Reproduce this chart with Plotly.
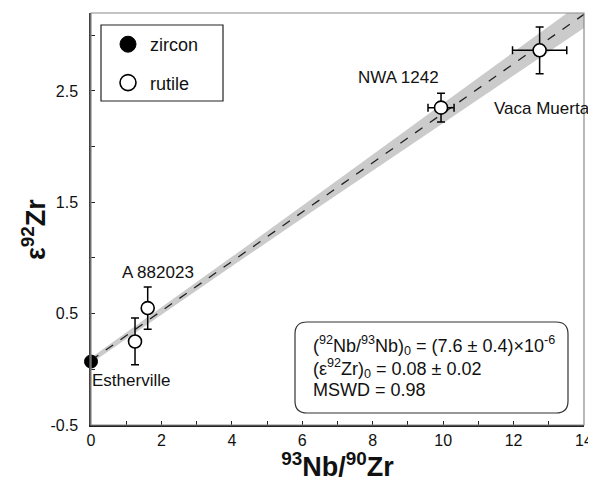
import plotly.graph_objects as go

# ---------------- data ----------------
zircon_x = [0.0]
zircon_y = [0.07]

rutile_names = ["Estherville", "A 882023", "NWA 1242", "Vaca Muerta"]
rutile_x = [1.25, 1.61, 9.94, 12.74]
rutile_y = [0.25, 0.55, 2.35, 2.865]
rutile_xerr = [0.0, 0.0, 0.37, 0.77]
rutile_yerr = [0.21, 0.19, 0.13, 0.21]

fit_intercept = 0.08
fit_slope = 0.222
fit_x = [0.0, 14.0]

band_x = [0, 2, 4, 6, 8, 10, 12, 14]
band_lower = [0.055, 0.494, 0.926, 1.356, 1.784, 2.212, 2.639, 3.066]
band_upper = [0.105, 0.554, 1.010, 1.468, 1.928, 2.388, 2.849, 3.310]

x_tickvals = list(range(0, 15))
x_ticktext = [str(v) if v % 2 == 0 else "" for v in x_tickvals]
y_tickvals = [-0.5, 0.0, 0.5, 1.0, 1.5, 2.0, 2.5, 3.0]
y_ticktext = ["-0.5", "", "0.5", "", "1.5", "", "2.5", ""]

# sample labels: (name, x, y)
label_names = ["A 882023", "Estherville", "NWA 1242", "Vaca Muerta"]
label_x = [1.9, 1.14, 8.72, 12.8]
label_y = [0.87, -0.10, 2.62, 2.34]

stats_lines = [
    "(<sup>92</sup>Nb/<sup>93</sup>Nb)<sub>0</sub> = (7.6 ± 0.4)×10<sup>-6</sup>",
    "(ε<sup>92</sup>Zr)<sub>0</sub> = 0.08 ± 0.02",
    "MSWD = 0.98",
]

FONT = "Liberation Sans, Arial, sans-serif"

fig = go.Figure()

# error envelope
fig.add_trace(go.Scatter(x=band_x, y=band_lower, mode="lines",
                         line=dict(width=0, color="rgba(0,0,0,0)"),
                         showlegend=False, hoverinfo="skip"))
fig.add_trace(go.Scatter(x=band_x, y=band_upper, mode="lines",
                         line=dict(width=0, color="rgba(0,0,0,0)"),
                         fill="tonexty", fillcolor="#cbcbcb",
                         showlegend=False, hoverinfo="skip"))

# fit line
fit_y = [fit_intercept + fit_slope * v for v in fit_x]
fig.add_trace(go.Scatter(x=fit_x, y=fit_y, mode="lines",
                         line=dict(color="#222222", width=1.3, dash="dash"),
                         showlegend=False, hoverinfo="skip"))

# rutile points
fig.add_trace(go.Scatter(
    x=rutile_x, y=rutile_y, mode="markers",
    marker=dict(symbol="circle", size=13, color="white",
                line=dict(color="black", width=1.6)),
    error_x=dict(type="data", array=rutile_xerr, color="black",
                 thickness=1.5, width=4),
    error_y=dict(type="data", array=rutile_yerr, color="black",
                 thickness=1.5, width=4),
    showlegend=False, cliponaxis=False))

# zircon point
fig.add_trace(go.Scatter(
    x=zircon_x, y=zircon_y, mode="markers",
    marker=dict(symbol="circle", size=13, color="black",
                line=dict(color="black", width=1)),
    showlegend=False, cliponaxis=False))

# legend entries
fig.add_trace(go.Scatter(
    x=[None], y=[None], mode="markers", name="zircon", legendgroup="a",
    marker=dict(symbol="circle", size=18, color="black",
                line=dict(color="black", width=1))))
fig.add_trace(go.Scatter(
    x=[None], y=[None], mode="markers", name="rutile", legendgroup="b",
    marker=dict(symbol="circle", size=18, color="white",
                line=dict(color="black", width=1.6))))

annotations = []
for n, lx, ly in zip(label_names, label_x, label_y):
    annotations.append(dict(x=lx, y=ly, xref="x", yref="y", text=n,
                            showarrow=False,
                            font=dict(family=FONT, size=17, color="#111")))

# page has an 8px body margin; plot area in page pixels:
OFF = 8
L, R, T, B = 91, 584, 13, 425
FIG_W, FIG_H = 596 - OFF, 482 - OFF


def px(xp):
    return (xp - L) / (R - L)


def py(yp):
    return (B - yp) / (B - T)


stat_y_px = [345, 368, 390]
for s, yy in zip(stats_lines, stat_y_px):
    annotations.append(dict(x=px(311), y=py(yy), xref="paper", yref="paper",
                            text=s, showarrow=False, xanchor="left",
                            yanchor="middle",
                            font=dict(family=FONT, size=18, color="#111")))

# y-axis title (as rotated annotation)
annotations.append(dict(x=px(34), y=py(230), xref="paper", yref="paper",
                        text="<b>ε<sup>92</sup>Zr</b>", textangle=-90,
                        showarrow=False, xanchor="center", yanchor="middle",
                        font=dict(family=FONT, size=27, color="#111")))

# rounded stats box
bx0, bx1, by0, by1, r = 295, 568, 322, 413, 12
path = (
    f"M {px(bx0 + r)},{py(by0)} L {px(bx1 - r)},{py(by0)} "
    f"Q {px(bx1)},{py(by0)} {px(bx1)},{py(by0 + r)} "
    f"L {px(bx1)},{py(by1 - r)} "
    f"Q {px(bx1)},{py(by1)} {px(bx1 - r)},{py(by1)} "
    f"L {px(bx0 + r)},{py(by1)} "
    f"Q {px(bx0)},{py(by1)} {px(bx0)},{py(by1 - r)} "
    f"L {px(bx0)},{py(by0 + r)} "
    f"Q {px(bx0)},{py(by0)} {px(bx0 + r)},{py(by0)} Z"
)

shapes = [
    dict(type="path", path=path, xref="paper", yref="paper",
         line=dict(color="#333", width=1.2), fillcolor="white", layer="below"),
    dict(type="rect", x0=px(101), x1=px(223), y0=py(101), y1=py(25),
         xref="paper", yref="paper",
         line=dict(color="#222", width=1.2), fillcolor="white", layer="below"),
    dict(type="rect", x0=0, x1=1, y0=0, y1=1, xref="paper", yref="paper",
         line=dict(color="#8a8a8a", width=1.2), layer="above"),
]

fig.update_layout(
    width=FIG_W, height=FIG_H,
    margin=dict(l=L - OFF, r=FIG_W - (R - OFF), t=T - OFF,
                b=FIG_H - (B - OFF), pad=0, autoexpand=False),
    paper_bgcolor="white", plot_bgcolor="white",
    font=dict(family=FONT, size=16, color="#111"),
    showlegend=True,
    legend=dict(x=px(106), y=py(26), xanchor="left", yanchor="top",
                borderwidth=0, bgcolor="rgba(0,0,0,0)",
                font=dict(family=FONT, size=18, color="#111"),
                tracegroupgap=12, itemwidth=34),
    annotations=annotations,
    shapes=shapes,
    xaxis=dict(range=[0, 14], tickvals=x_tickvals, ticktext=x_ticktext,
               ticks="inside", ticklen=4, tickcolor="#222", tickwidth=1,
               showline=True, linecolor="#222", linewidth=1.5,
               showgrid=False, zeroline=False, automargin=False,
               tickfont=dict(family=FONT, size=16, color="#111"),
               title=dict(text="<b><sup>93</sup>Nb/<sup>90</sup>Zr</b>",
                          font=dict(family=FONT, size=27, color="#111"),
                          standoff=10)),
    yaxis=dict(range=[-0.5, 3.2], tickvals=y_tickvals, ticktext=y_ticktext,
               ticks="inside", ticklen=4, tickcolor="#222", tickwidth=1,
               showline=True, linecolor="#444", linewidth=1.5,
               showgrid=False, zeroline=False, automargin=False,
               ticklabelstandoff=8,
               tickfont=dict(family=FONT, size=16, color="#111")),
)

fig.write_html("out.html")
